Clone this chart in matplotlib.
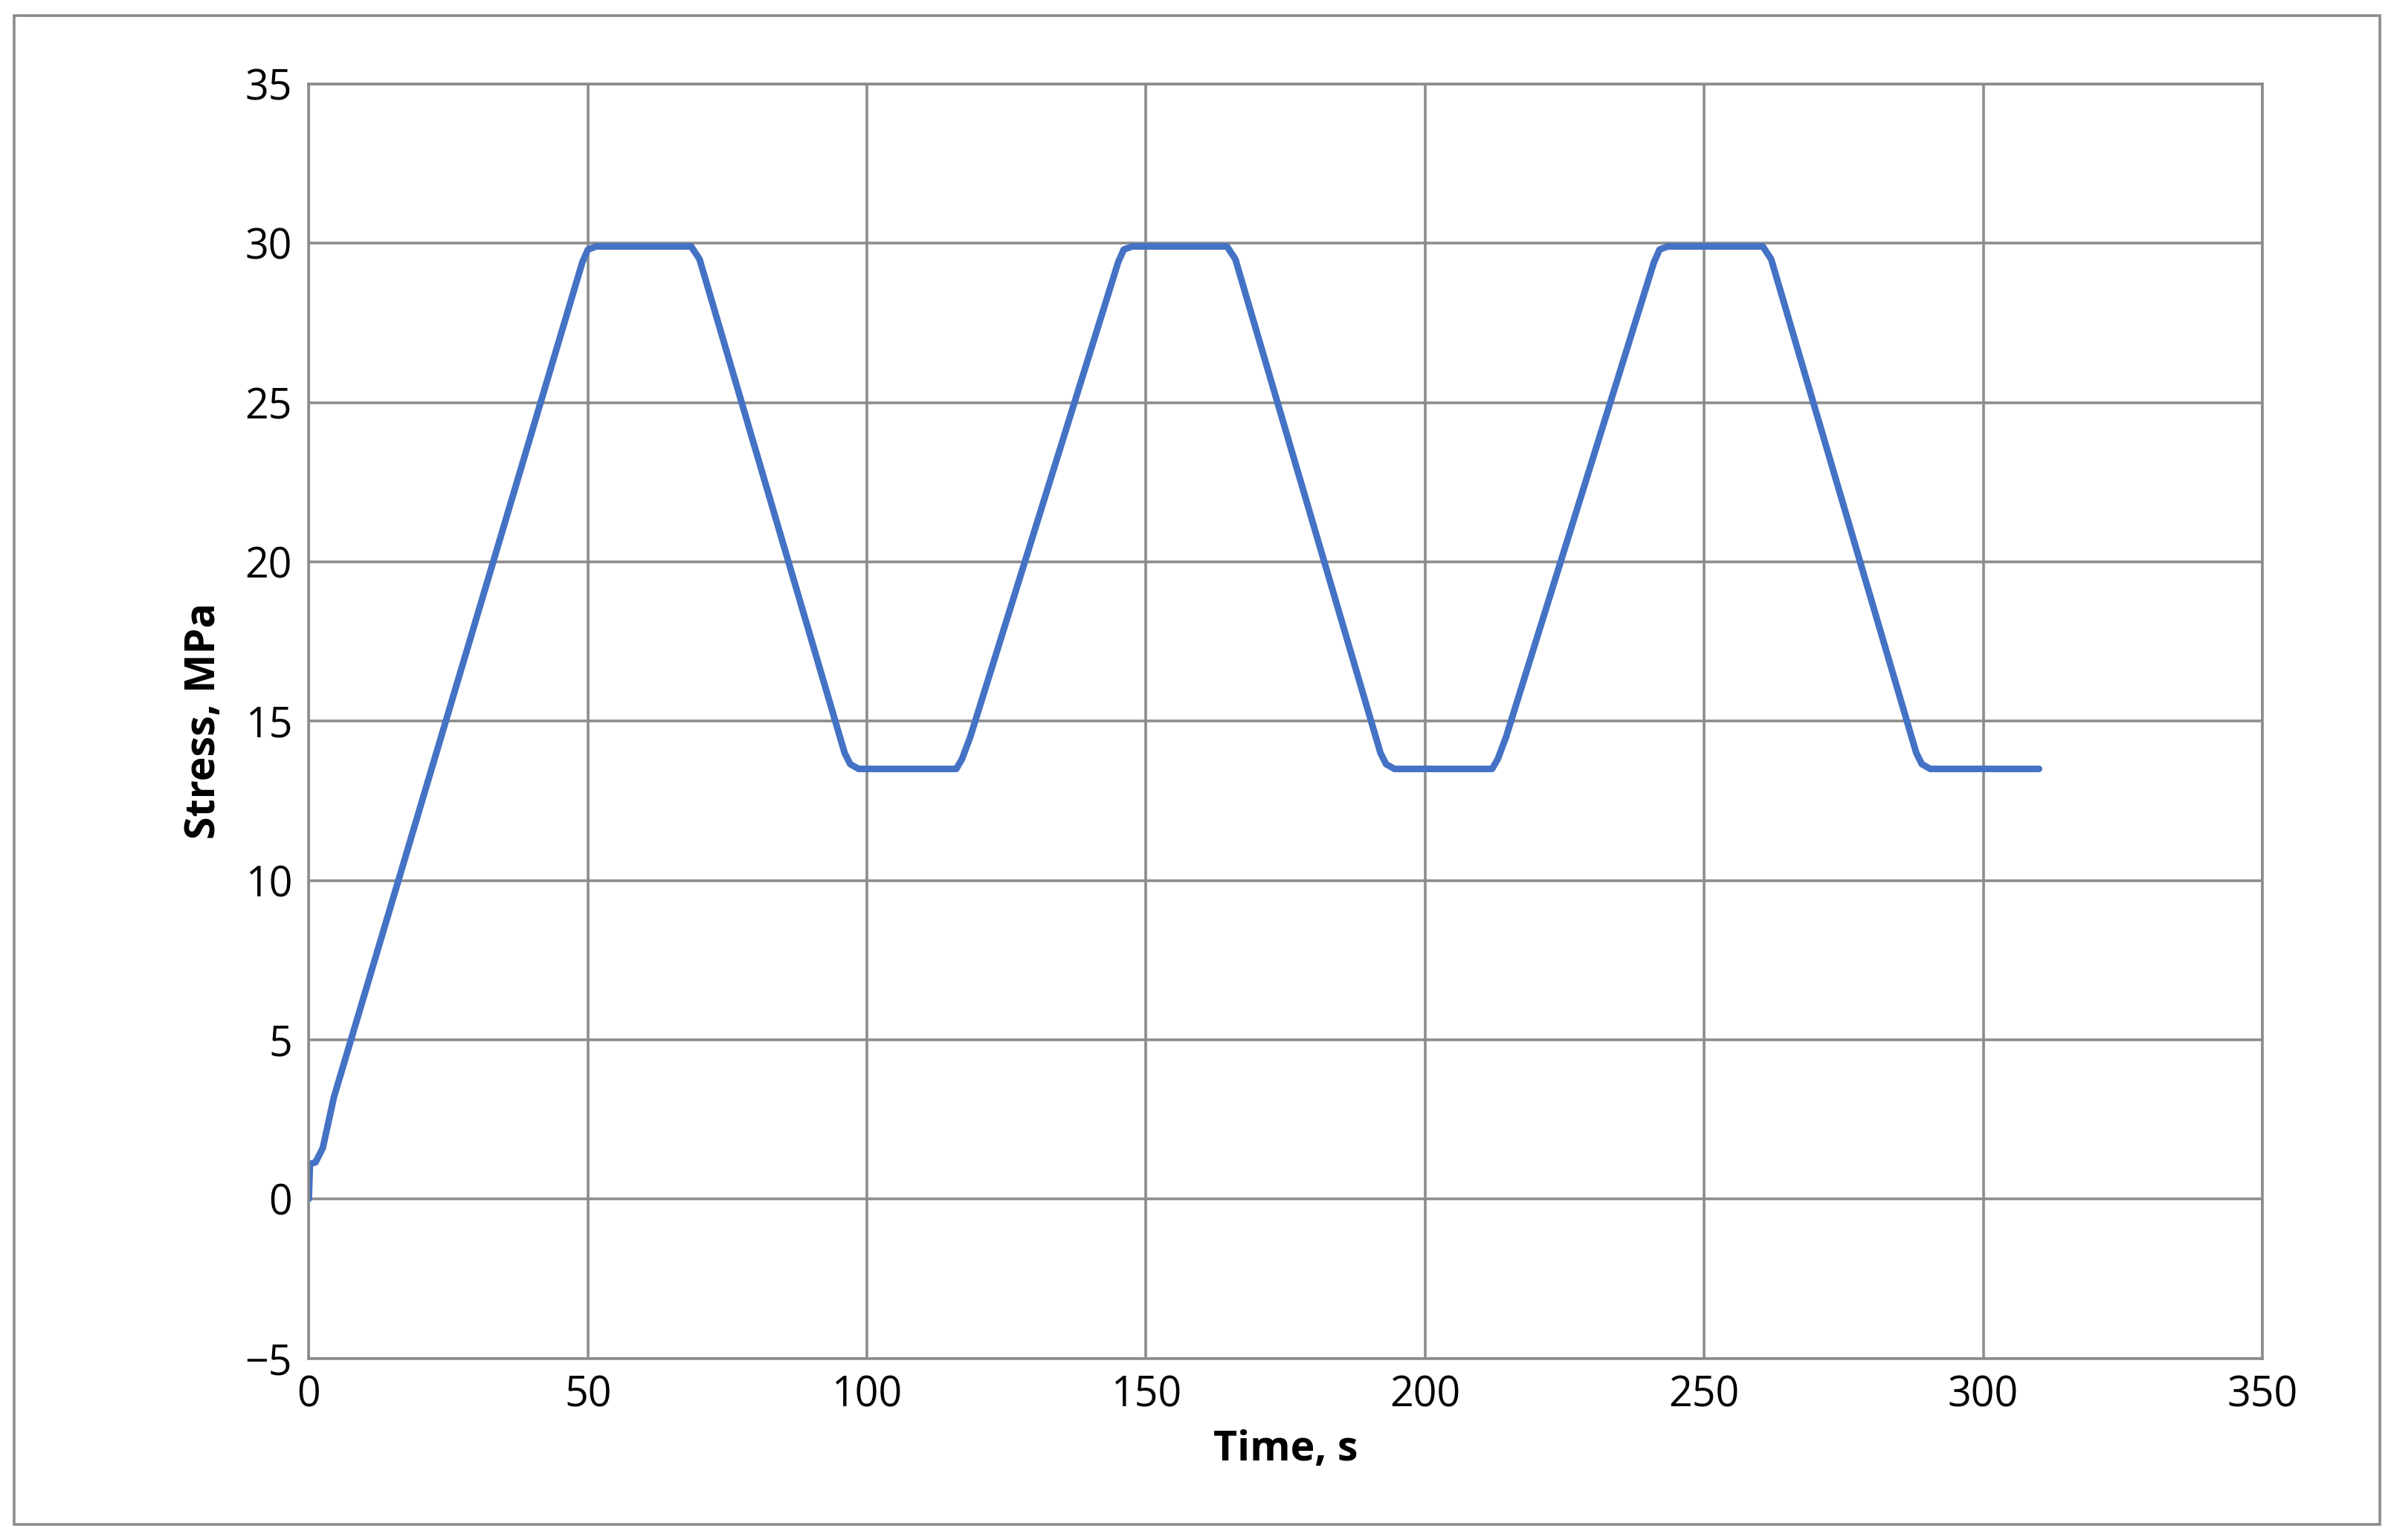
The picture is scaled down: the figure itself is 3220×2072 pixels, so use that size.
import matplotlib
matplotlib.use("Agg")
import matplotlib.pyplot as plt
from matplotlib.patches import Rectangle

time_s = [0, 0.2, 1.2, 2.5, 3.5, 4.5, 49, 50, 51.5, 68.5, 70, 96, 97, 98.5, 116, 117, 118.5,
          145, 146, 147.5, 164.5, 166, 192, 193, 194.5, 212, 213, 214.5,
          241, 242, 243.5, 260.5, 262, 288, 289, 290.5, 310]
stress = [0, 1.1, 1.15, 1.6, 2.4, 3.2, 29.4, 29.8, 29.9, 29.9, 29.5, 14.0, 13.65, 13.5, 13.5, 13.8, 14.5,
          29.4, 29.8, 29.9, 29.9, 29.5, 14.0, 13.65, 13.5, 13.5, 13.8, 14.5,
          29.4, 29.8, 29.9, 29.9, 29.5, 14.0, 13.65, 13.5, 13.5]
xticks = [0, 50, 100, 150, 200, 250, 300, 350]
yticks = [-5, 0, 5, 10, 15, 20, 25, 30, 35]

plt.rcParams['font.family'] = ['Open Sans', 'DejaVu Sans']
fig = plt.figure(figsize=(16.1, 10.36), dpi=200)
ax = fig.add_axes([0.129, 0.118, 0.816, 0.8275])
ax.plot(time_s, stress, color='#4472C4', lw=3.2, solid_joinstyle='round', solid_capstyle='round')
ax.set_xlim(0, 350)
ax.set_ylim(-5, 35)
ax.set_xticks(xticks)
ax.set_yticks(yticks)
ax.set_yticklabels([str(v).replace('-', '\u2212') for v in yticks])
ax.grid(True, color='#8c8c8c', lw=1.3)
ax.set_axisbelow(True)
for s in ax.spines.values():
    s.set_color('#8c8c8c'); s.set_linewidth(1.3)
ax.tick_params(length=0, labelsize=20, pad=8)
ax.set_xlabel('Time, s', fontsize=20, fontweight='bold', labelpad=6)
ax.set_ylabel('Stress, MPa', fontsize=20, fontweight='bold', labelpad=10)
fig.patches.append(Rectangle((0.006, 0.01), 0.988, 0.98, transform=fig.transFigure,
                             fill=False, edgecolor='#8c8c8c', lw=1.3))
fig.savefig('out.png', dpi=200)
